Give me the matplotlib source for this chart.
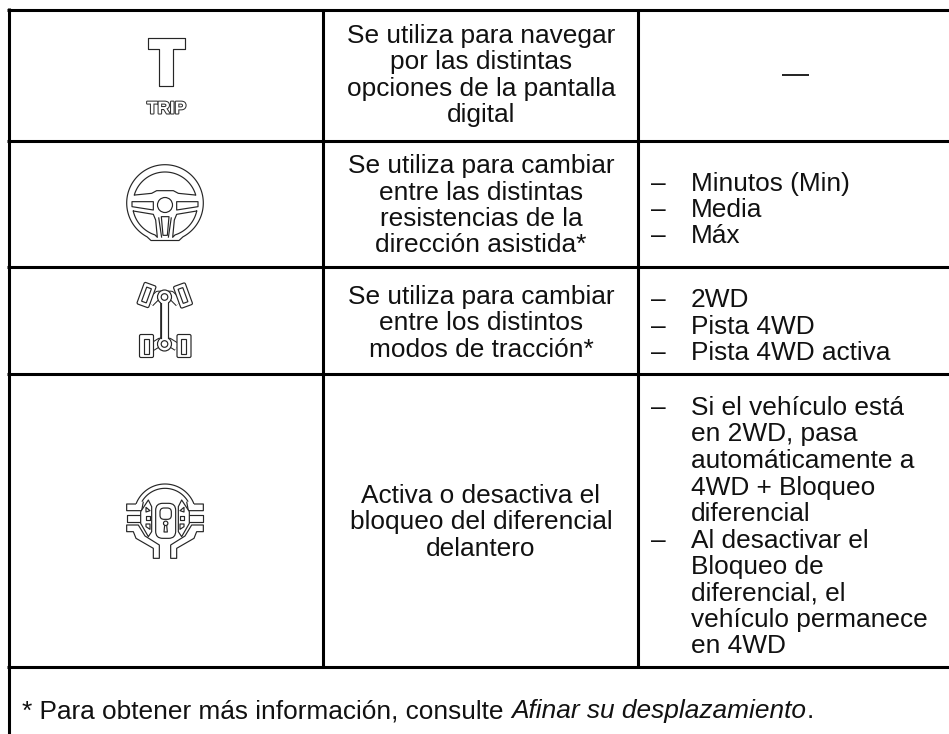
import numpy as np
import matplotlib
matplotlib.use("Agg")
import matplotlib.pyplot as plt
import matplotlib.patheffects as pe
from matplotlib.patches import Circle, Rectangle, Polygon, FancyBboxPatch
from matplotlib.transforms import Affine2D

plt.rcParams['font.family'] = ['Liberation Sans', 'DejaVu Sans']
FS = 18.9
W, H = 949, 734
TC = "#111111"

col_x = [8.7, 323, 638]
row_y = [9.5, 141.3, 266.8, 374, 667]

desc_lines = [
    ["Se utiliza para navegar", "por las distintas", "opciones de la pantalla", "digital"],
    ["Se utiliza para cambiar", "entre las distintas", "resistencias de la", "dirección asistida*"],
    ["Se utiliza para cambiar", "entre los distintos", "modos de tracción*"],
    ["Activa o desactiva el", "bloqueo del diferencial", "delantero"],
]
desc_y = [[43, 69.5, 96, 122], [173, 199.5, 226, 252.5], [304, 330.5, 357], [503, 529.5, 556]]

options = [
    [("–", "Minutos (Min)", 191), ("–", "Media", 217), ("–", "Máx", 243)],
    [("–", "2WD", 307), ("–", "Pista 4WD", 333.5), ("–", "Pista 4WD activa", 360)],
    [("–", "Si el vehículo está", 415), ("", "en 2WD, pasa", 441.5), ("", "automáticamente a", 468),
     ("", "4WD + Bloqueo", 494.5), ("", "diferencial", 521), ("–", "Al desactivar el", 547.5),
     ("", "Bloqueo de", 574), ("", "diferencial, el", 600.5), ("", "vehículo permanece", 627),
     ("", "en 4WD", 653)],
]
note_a = "* Para obtener más información, consulte "
note_b = "Afinar su desplazamiento"

fig = plt.figure(figsize=(W / 100, H / 100), dpi=100)
ax = fig.add_axes([0, 0, 1, 1])
ax.set_xlim(0, W)
ax.set_ylim(H, 0)
ax.axis("off")

LW = 2.2
for y in row_y:
    ax.plot([col_x[0] - 1.5, W], [y, y], color="black", lw=LW, solid_capstyle="butt")
ax.plot([col_x[0]] * 2, [row_y[0] - 1.5, H], color="black", lw=LW, solid_capstyle="butt")
for x in col_x[1:]:
    ax.plot([x, x], [row_y[0], row_y[-1]], color="black", lw=LW, solid_capstyle="butt")

for lines, ys in zip(desc_lines, desc_y):
    for s, y in zip(lines, ys):
        ax.text(481, y, s, ha="center", va="baseline", fontsize=FS, color=TC)

ax.plot([782, 809], [75, 75], color=TC, lw=1.3, solid_capstyle="butt")

for cell in options:
    for d, s, y in cell:
        if d:
            ax.text(651, y, d, ha="left", va="baseline", fontsize=FS, color=TC)
        ax.text(691, y, s, ha="left", va="baseline", fontsize=FS, color=TC)

NY = 718
t = ax.text(22, NY, note_a, ha="left", va="baseline", fontsize=FS, color=TC)
fig.canvas.draw()
inv = ax.transData.inverted()
x1 = inv.transform(t.get_window_extent().get_points())[1, 0]
t2 = ax.text(x1 + 1, NY, note_b, ha="left", va="baseline", fontsize=FS, style="italic", color=TC)
fig.canvas.draw()
x2 = inv.transform(t2.get_window_extent().get_points())[1, 0]
ax.text(x2, NY, ".", ha="left", va="baseline", fontsize=FS, color=TC)

IC = "#262626"
L = 0.85


def poly(pts, closed=True, lw=L, fc="white", z=3):
    ax.add_patch(Polygon(pts, closed=closed, fc=fc if closed else "none", ec=IC, lw=lw, zorder=z, joinstyle="round"))


def circ(c, r, lw=L, fc="none", z=3):
    ax.add_patch(Circle(c, r, fc=fc, ec=IC, lw=lw, zorder=z))


# TRIP icon
poly([(148.3, 38), (185, 38), (185, 49), (173, 49), (173, 86), (159, 86), (159, 49), (148.3, 49)])
ax.text(166.5, 113.5, "TRIP", ha="center", va="baseline", fontsize=12.4, fontweight="bold", color="white",
        path_effects=[pe.withStroke(linewidth=1.5, foreground="#333333")], zorder=4)


# Steering wheel, crop coordinates (crop origin 120,160, scale 3)
def wz(x, y):
    return (120 + x / 3, 160 + y / 3)


def wpts(seq, mirror=False):
    return [wz(270 - x if mirror else x, y) for x, y in seq]


cx, cy = 165, 203
oth = np.radians(np.linspace(-62, 242, 200))
ring = np.c_[cx + 38.3 * np.cos(oth), cy - 38.3 * np.sin(oth)]
ring = np.vstack([ring, [[cx - 14, 240.5], [cx + 14, 240.5]]])
poly(ring)
ith = np.radians(np.linspace(16, 164, 120))
top_win = list(zip(cx + 32 * np.cos(ith), cy + 1 - 32 * np.sin(ith)))
poly(top_win + wpts([(45, 105), (95, 100), (110, 92), (160, 92), (175, 100), (225, 105)]))
for m in (False, True):
    poly(wpts([(36, 125), (100, 125), (100, 150), (36, 140)], m))
    ath = np.radians(np.linspace(-168, -108, 40))
    arc = [(cx + (32.5 * np.cos(a)) * (-1 if m else 1), cy + 1 - 32.5 * np.sin(a)) for a in ath]
    poly(arc + wpts([(112, 232), (107, 180), (100, 163), (40, 153)], m))
    poly(wpts([(116, 172), (125, 233)], m), closed=False)
poly(wpts([(124, 170), (147, 170), (142, 226), (129, 226)]))
circ((165, 205), 7.5, fc="white", z=4)


# 4WD chassis
def tyre(c, w, h, ang, iw, ih):
    tr = Affine2D().rotate_deg_around(c[0], c[1], ang) + ax.transData
    ax.add_patch(FancyBboxPatch((c[0] - w / 2, c[1] - h / 2), w, h, boxstyle="round,pad=0,rounding_size=1.5",
                                fc="white", ec=IC, lw=L, transform=tr, zorder=5))
    ax.add_patch(Rectangle((c[0] - iw / 2, c[1] - ih / 2), iw, ih, fc="white", ec=IC, lw=L, transform=tr, zorder=6))


for xs, ys, wd in [([164.5, 164.5], [297, 344], 7),
                   ([150, 158, 171, 179], [303, 295, 295, 303], 7),
                   ([152, 160, 169, 177], [347, 342, 342, 347], 7)]:
    ax.plot(xs, ys, color=IC, lw=wd * 0.72 + 1.2, zorder=3, solid_capstyle="butt", solid_joinstyle="round")
    ax.plot(xs, ys, color="white", lw=wd * 0.72 - 0.3, zorder=3.5, solid_capstyle="butt", solid_joinstyle="round")
tyre((146.5, 295), 12.5, 23, 20, 5, 15)
tyre((183, 295.5), 12.5, 23, -20, 5, 15)
tyre((146.5, 346), 14, 23, 0, 5, 15)
tyre((184, 346), 14, 23, 0, 5, 15)
for hy in (297, 344):
    circ((164.5, hy), 7, fc="white", z=3.6)
    circ((164.5, hy), 3.3, fc="white", z=8)
ax.add_patch(Rectangle((161.2, 302), 6.6, 37, fc="white", ec="none", zorder=3.7))
ax.plot([161, 161], [303, 338], color=IC, lw=L, zorder=8)
ax.plot([168, 168], [303, 338], color=IC, lw=L, zorder=8)


# Differential lock, crop coordinates (crop origin 110,470, scale 3)
def lz(x, y):
    return (110 + x / 3, 470 + y / 3)


def lpts(seq, mirror=False):
    return [lz(330 - x if mirror else x, y) for x, y in seq]


def arc_pts(r, a0, a1, n=60):
    a = np.radians(np.linspace(a0, a1, n))
    return [lz(165 + r * np.cos(v), 135 - r * np.sin(v)) for v in a]


poly(arc_pts(93, 21, 159), closed=False)
poly(arc_pts(80, 30, 150), closed=False)
for m in (False, True):
    poly(lpts([(78, 102), (50, 102), (50, 122), (95, 122), (100, 95)], m), closed=False)
    poly(lpts([(50, 135), (95, 135), (95, 155), (50, 155)], m))
    poly(lpts([(50, 165), (85, 165), (105, 198), (148, 225), (148, 265), (130, 265), (130, 235), (78, 205), (70, 185), (50, 185)], m))
    poly(lpts([(92, 125), (115, 90), (125, 110), (125, 185), (115, 200), (92, 160)], m))
    poly(lpts([(108, 112), (120, 122), (108, 126)], m))
    poly(lpts([(108, 137), (120, 137), (120, 150), (108, 150)], m))
    poly(lpts([(108, 162), (120, 162), (120, 178), (108, 170)], m))
# padlock
ax.add_patch(FancyBboxPatch(lz(137, 100), 60 / 3, 105 / 3, boxstyle="round,pad=0,rounding_size=7",
                            fc="white", ec=IC, lw=L, zorder=6))
ax.add_patch(FancyBboxPatch(lz(150, 114), 34 / 3, 34 / 3, boxstyle="round,pad=0,rounding_size=4",
                            fc="white", ec=IC, lw=L, zorder=7))
circ(lz(167, 160), 2.2, fc="white", z=8)
poly(lpts([(164, 165), (170, 165), (172, 186), (162, 186)]), z=7.5)

fig.savefig("out.png", dpi=100)
